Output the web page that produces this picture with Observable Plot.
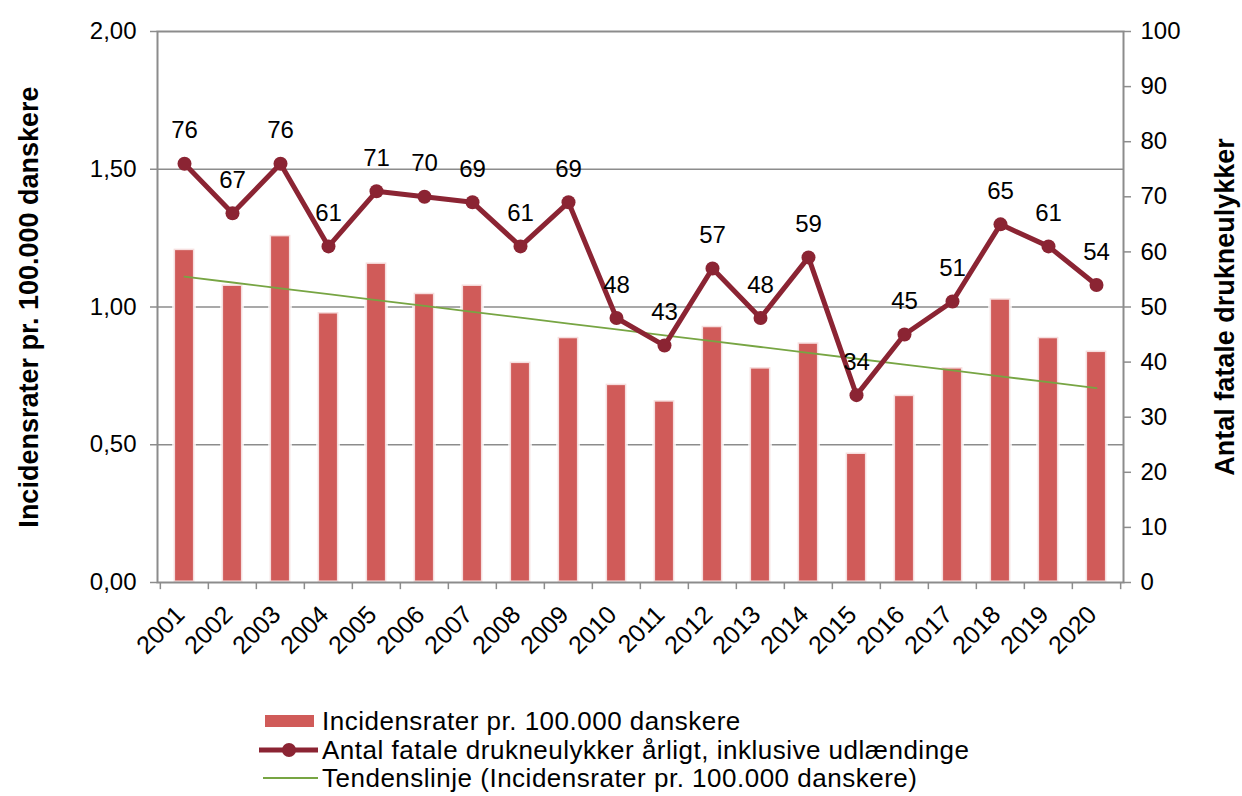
<!DOCTYPE html>
<html>
<head>
<meta charset="utf-8">
<script src="https://cdn.jsdelivr.net/npm/d3@7"></script>
<script src="https://cdn.jsdelivr.net/npm/@observablehq/plot@0.6"></script>
<style>
  body { margin: 0; background: #fff; font-family: "Liberation Sans", Arial, sans-serif; }
  #legend { margin-left: 258px; margin-top: 7px; font-size: 26px; letter-spacing: 0.5px; color: #000; line-height: 28.5px; }
  .row { display: flex; align-items: center; height: 28.5px; white-space: nowrap; }
  .row svg { margin-right: 2px; flex: none; }
</style>
</head>
<body>
<div id="chart"></div>
<div id="legend"></div>
<script>
const years = ["2001","2002","2003","2004","2005","2006","2007","2008","2009","2010",
               "2011","2012","2013","2014","2015","2016","2017","2018","2019","2020"];
const rates = [1.21,1.08,1.26,0.98,1.16,1.05,1.08,0.80,0.89,0.72,
               0.66,0.93,0.78,0.87,0.47,0.68,0.78,1.03,0.89,0.84];
const deaths = [76,67,76,61,71,70,69,61,69,48,43,57,48,59,34,45,51,65,61,54];
const leftTicks = [0, 0.5, 1, 1.5, 2];
const rightTicks = [0,10,20,30,40,50,60,70,80,90,100];
const leftTitle = "Incidensrater pr. 100.000 danskere";
const rightTitle = "Antal fatale drukneulykker";
const legendLabels = [
  "Incidensrater pr. 100.000 danskere",
  "Antal fatale drukneulykker årligt, inklusive udlændinge",
  "Tendenslinje (Incidensrater pr. 100.000 danskere)"
];

const barColor = "#d05b59", lineColor = "#8b2433", trendColor = "#77a543", gridColor = "#8c8c8c";
const RATIO = 50; // right axis max 100 <-> left axis max 2.00

const data = years.map((y, i) => ({year: y, rate: rates[i], deaths: deaths[i], idx: i}));

// linear regression (trend line) of the rates
const mx = d3.mean(data, d => d.idx), my = d3.mean(data, d => d.rate);
const slope = d3.sum(data, d => (d.idx - mx) * (d.rate - my)) / d3.sum(data, d => (d.idx - mx) ** 2);
const trend = data.map(d => ({year: d.year, v: my + slope * (d.idx - mx)}));

const W = 1242, H = 700, ML = 157, MR = 119, MT = 31, MB = 118;
const step = (W - ML - MR) / years.length;
const fmt = v => v.toFixed(2).replace(".", ",");

const chart = Plot.plot({
  width: W, height: H,
  marginLeft: ML, marginRight: MR, marginTop: MT, marginBottom: MB,
  style: {fontFamily: "'Liberation Sans', Arial, sans-serif", fontSize: "24px", color: "#000", background: "#fff"},
  x: {type: "band", domain: years, padding: 0},
  y: {domain: [0, 2]},
  marks: [
    Plot.ruleY([0.5, 1, 1.5], {stroke: gridColor, strokeWidth: 1.5}),
    Plot.barY(data, {x: "year", y: "rate", fill: barColor, insetLeft: 13.6, insetRight: 13.6,
                     stroke: "#fff", strokeWidth: 3, strokeOpacity: 0.8}),
    Plot.frame({stroke: gridColor, strokeWidth: 2}),
    Plot.axisY({ticks: leftTicks, tickFormat: fmt, tickSize: 7, tickPadding: 14, stroke: gridColor,
                strokeWidth: 1.5, label: null}),
    Plot.axisY({anchor: "right", ticks: rightTicks.map(v => v / RATIO), tickFormat: v => Math.round(v * RATIO),
                tickSize: 7, tickPadding: 10, stroke: gridColor, strokeWidth: 1.5, label: null}),
    Plot.axisX({tickSize: 0, tickRotate: -45, tickPadding: 28, label: null, dx: -4}),
    Plot.ruleX(years, {x: d => d, y1: 0, y2: -0.026, dx: -step / 2, stroke: gridColor, strokeWidth: 1.5}),
    Plot.ruleX(years.slice(-1), {x: d => d, y1: 0, y2: -0.026, dx: step / 2, stroke: gridColor, strokeWidth: 1.5}),
    Plot.line(trend, {x: "year", y: "v", stroke: trendColor, strokeWidth: 1.8}),
    Plot.line(data, {x: "year", y: d => d.deaths / RATIO, stroke: lineColor, strokeWidth: 5}),
    Plot.dot(data, {x: "year", y: d => d.deaths / RATIO, r: 7, fill: lineColor}),
    Plot.text(data, {x: "year", y: d => d.deaths / RATIO, text: d => String(d.deaths), dy: -33}),
    Plot.text([leftTitle], {frameAnchor: "left", dx: -128, rotate: -90, textAnchor: "middle", fontWeight: "bold"}),
    Plot.text([rightTitle], {frameAnchor: "right", dx: 102, rotate: -90, textAnchor: "middle", fontWeight: "bold"})
  ]
});
document.getElementById("chart").appendChild(chart);

// text styling after render
const svg = d3.select(chart);
svg.selectAll("g").attr("font-size", null);
svg.selectAll("text").style("font-size", "24px").style("fill", "#000")
   .style("font-family", "'Liberation Sans', Arial, sans-serif");
svg.selectAll("text").filter(function() { return years.includes(this.textContent); })
   .style("font-size", "25px");
svg.selectAll("text").filter(function() { return this.textContent === leftTitle || this.textContent === rightTitle; })
   .style("font-size", "27px").style("font-weight", "bold");

// legend
const leg = document.getElementById("legend");
const swatches = [
  `<svg width="62" height="20"><rect x="7" y="4" width="49" height="12" fill="${barColor}"/></svg>`,
  `<svg width="62" height="20"><line x1="1" y1="10" x2="60" y2="10" stroke="${lineColor}" stroke-width="5"/><circle cx="31" cy="10" r="7" fill="${lineColor}"/></svg>`,
  `<svg width="62" height="20"><line x1="5" y1="10" x2="60" y2="10" stroke="${trendColor}" stroke-width="2"/></svg>`
];
legendLabels.forEach((t, i) => {
  const r = document.createElement("div");
  r.className = "row";
  r.innerHTML = swatches[i] + `<span>${t}</span>`;
  leg.appendChild(r);
});
</script>
</body>
</html>
